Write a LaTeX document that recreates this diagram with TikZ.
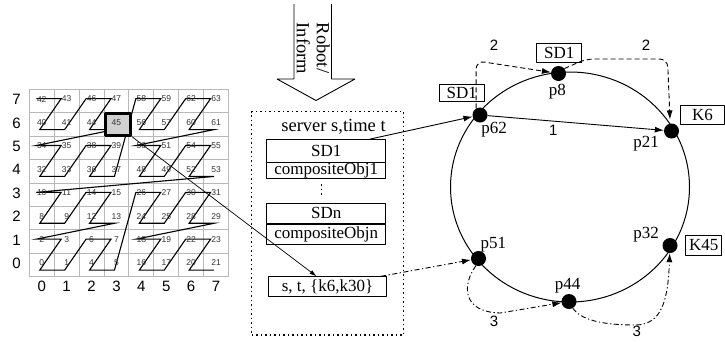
\documentclass[tikz,border=0pt]{standalone}
\usepackage{fontspec}
\setmainfont{Liberation Serif}
\setsansfont{Liberation Sans}
\usetikzlibrary{arrows.meta,positioning}

\tikzset{
  gridline/.style={draw=black!28,line width=0.9pt},
  zline/.style={line width=1.1pt,line join=miter},
  cellnum/.style={font=\sffamily\fontsize{8.5}{9}\selectfont,text=black!80,inner sep=0pt},
  axisnum/.style={font=\sffamily\fontsize{15}{16}\selectfont,inner sep=0pt},
  hotcell/.style={draw,line width=2.4pt,fill=black!18,minimum width=25pt,minimum height=22pt,inner sep=0pt},
  srvbox/.style={draw,line width=1.4pt,dash pattern=on 1.4pt off 3.1pt,inner sep=0pt},
  recbox/.style={draw,line width=0.9pt,minimum width=119pt,inner sep=0pt,font=\fontsize{17}{18}\selectfont},
  tagbox/.style={draw,line width=0.9pt,minimum height=18.5pt,inner sep=0pt,font=\fontsize{17}{18}\selectfont},
  plabel/.style={font=\fontsize{17}{18}\selectfont,inner sep=0pt},
  hoplabel/.style={font=\sffamily\fontsize{15}{16}\selectfont,inner sep=0pt},
  peer/.style={circle,fill=black,minimum size=15pt,inner sep=0pt},
  dasharr/.style={->,dash pattern=on 5pt off 3pt,line width=0.9pt},
  dotdasharr/.style={->,dash pattern=on 5pt off 2.5pt on 1.3pt off 2.5pt,line width=0.9pt},
}

\begin{document}
\begin{tikzpicture}[x=1pt,y=-1pt,>={Latex[length=9pt,width=6pt]},line join=bevel]
\useasboundingbox (0,0) rectangle (725,341);
%%
% Grid
\foreach \i in {0,...,8}
  \draw[gridline] (29.3+\i*24.9,89.3) -- (29.3+\i*24.9,276.7);
\foreach \i in {0,...,8}
  \draw[gridline] (29.3,89.3+\i*23.42) -- (228.5,89.3+\i*23.42);
% Z-order curve
\foreach \k in {0,...,63}{
  \pgfmathtruncatemacro{\cx}{mod(\k,2)+2*mod(int(\k/4),2)+4*mod(int(\k/16),2)}
  \pgfmathtruncatemacro{\yt}{mod(int(\k/2),2)+2*mod(int(\k/8),2)+4*int(\k/32)}
  \pgfmathsetmacro{\px}{29.3+\cx*24.9+(0.42-0.14*(1-mod(\yt,2)))*24.9}
  \pgfmathsetmacro{\py}{89.3+\yt*23.42+(0.72-0.32*(1-mod(\yt,2)))*23.42}
  \coordinate (z\k) at (\px,\py);
}
\draw[zline] (z0) \foreach \k in {1,...,63}{ -- (z\k)};
% Node: cell45
\node[hotcell] (cell45) at (118,124.3) {};
% cell numbers
\foreach \c in {0,...,7}
  \foreach \r in {0,...,7}{
    \pgfmathtruncatemacro{\m}{mod(\c,2)+2*mod(\r,2)+4*mod(int(\c/2),2)+8*mod(int(\r/2),2)+16*int(\c/4)+32*int(\r/4)}
    \node[cellnum] (n\m) at (41.75+\c*24.9,263-\r*23.42) {\m};
  }
\foreach \r in {0,...,7}
  \node[axisnum] (row\r) at (16.5,263.5-\r*23.42) {\r};
\foreach \c in {0,...,7}
  \node[axisnum] (col\c) at (41.75+\c*24.9,286) {\c};
%
% Robot / Inform arrow
\draw[line width=0.9pt] (294,4) -- (294,79) -- (277,79) -- (316,100.5)
  -- (355,79) -- (331.5,79) -- (331.5,4);
\node[plabel,rotate=-90,align=left,font=\fontsize{18.5}{20}\selectfont] (robot) at (313.3,48.5) {Robot/\\Inform};
%
% Node: server
\node[srvbox,minimum width=152pt,minimum height=223.3pt] (server) at (327.7,223.4) {};
\node[plabel,font=\fontsize{18.5}{19}\selectfont] (srvlabel) at (333.5,127) {server s,time t};
\node[recbox,minimum height=22.5pt] (sd1) at (326.2,150.75) {SD1};
\node[recbox,minimum height=16pt,below=0pt of sd1] (obj1) {compositeObj1};
\node[recbox,minimum height=20pt] (sdn) at (326.2,213.3) {SDn};
\node[recbox,minimum height=20pt,below=0pt of sdn] (objn) {compositeObjn};
\draw[srvbox] ([xshift=-4.5pt,yshift=-5pt]obj1.south) -- ([xshift=-4.5pt,yshift=5pt]sdn.north);
\node[recbox,minimum width=118.4pt,minimum height=20pt] (query) at (327.5,286.7) {s, t, \{k6,k30\}};
%
% Ring
\draw[line width=1pt] (570,187) ellipse [x radius=119.5pt, y radius=115pt];
% Node: p62
\node[peer] (p62) at (480,115) {};
\node[plabel] (l62) at (494,130) {p62};
% Node: p8
\node[peer] (p8) at (558.5,73.5) {};
\node[plabel] (l8) at (557.3,91.7) {p8};
% Node: p21
\node[peer] (p21) at (671.5,131) {};
\node[plabel] (l21) at (646,143.3) {p21};
% Node: p32
\node[peer] (p32) at (670,245.5) {};
\node[plabel] (l32) at (646,235) {p32};
% Node: p44
\node[peer] (p44) at (569,301.5) {};
\node[plabel] (l44) at (567.7,286) {p44};
% Node: p51
\node[peer] (p51) at (478.5,258.5) {};
\node[plabel] (l51) at (493.3,245) {p51};
% tags
\node[tagbox,minimum width=44.7pt,minimum height=17.7pt] (tag62) at (461.7,92.9) {SD1};
\node[tagbox,minimum width=45pt,minimum height=19.4pt] (tag8) at (559.2,53) {SD1};
\node[tagbox,minimum width=43.8pt] (tag21) at (702.6,115) {K6};
\node[tagbox,minimum width=36pt,minimum height=19.3pt] (tag32) at (703.7,245.4) {K45};
%
% Edge: cell45 -> query
\draw[->,line width=0.7pt,>={Latex[length=7pt,width=4.5pt]}] (cell45.south east) -- ([xshift=-11pt]query.north);
% Edge: sd1 -> p62
\draw[->,line width=0.9pt] ([xshift=-16pt]sd1.north east) -- (p62);
% Edge: p62 -> p21
\draw[->,line width=0.9pt] (p62) -- (p21);
\node[hoplabel] (h1) at (553.3,130) {1};
% Edge: p62 -> p8
\draw[dasharr,rounded corners=8pt] (p62.120) -- ++(0,-47.5) -- (p8);
\node[hoplabel] (h2a) at (494,45) {2};
% Edge: p8 -> p21
\draw[dasharr,rounded corners=8pt,shorten >=4pt] (p8.40) -- (586,59) -- (667.5,59) -- (p21.100);
\node[hoplabel] (h2b) at (646,45) {2};
% Edge: query -> p51
\draw[dotdasharr] ([xshift=-6pt]query.north east) -- (p51);
% Edge: p51 -> p44
\draw[dotdasharr] (p51.250) .. controls (462,285) and (462,312) .. (500,313) -- (p44);
\node[hoplabel] (h3a) at (494,321.7) {3};
% Edge: p44 -> p32
\draw[dotdasharr] (p44.300) .. controls (582,322) and (610,325) .. (635,325) .. controls (662,325) and (668,300) .. (p32);
\node[hoplabel] (h3b) at (636.7,331.7) {3};
%
\end{tikzpicture}
\end{document}
